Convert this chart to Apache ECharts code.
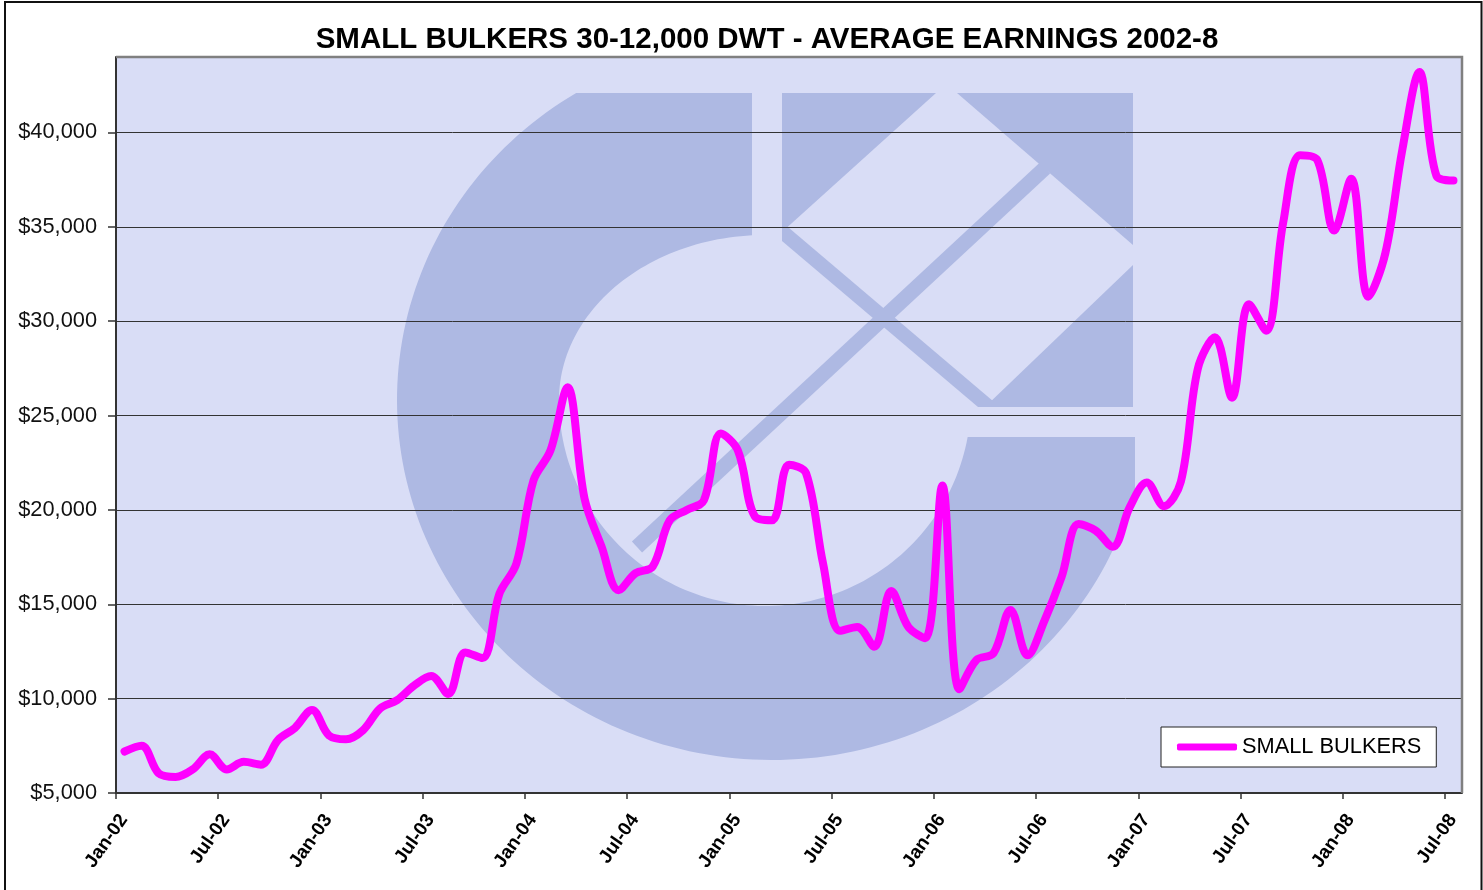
<!DOCTYPE html>
<html>
<head>
<meta charset="utf-8">
<title>Small bulkers average earnings</title>
<script src="https://cdn.jsdelivr.net/npm/echarts@6/dist/echarts.min.js"></script>
<style>
  html, body { margin: 0; padding: 0; background: #fff; }
  #chart { width: 1483px; height: 890px; }
</style>
</head>
<body>
<div id="chart"></div>
<script>
// monthly average earnings, $/day, Jan-02 .. Jul-08
const earnings = [
  7200, 7500, 6050, 5850, 6250, 7050, 6250, 6650, 6500, 7800, 8450, 9400,
  8050, 7850, 8330, 9480, 9920, 10700, 11200, 10250, 12450, 12150, 15550, 17150,
  21550, 23150, 26500, 20600, 18050, 15750, 16650, 17000, 19450, 20000, 20500, 24050,
  23150, 19650, 19450, 22400, 21950, 17150, 13600, 13800, 12750, 15700, 13800, 13200,
  21300, 10500, 12050, 12400, 14700, 12300, 14150, 16450, 19250, 18900, 18050, 20150,
  21450, 20200, 21500, 27500, 29150, 25950, 30900, 29500, 35200, 38800, 38550, 34800,
  37550, 31300, 33600, 39100, 43200, 37700, 37450
]
// x tick labels, one every 6 months
const tickLabels = [
  'Jan-02', 'Jul-02', 'Jan-03', 'Jul-03', 'Jan-04', 'Jul-04', 'Jan-05',
  'Jul-05', 'Jan-06', 'Jul-06', 'Jan-07', 'Jul-07', 'Jan-08', 'Jul-08'
]
const yTicks = [5000, 10000, 15000, 20000, 25000, 30000, 35000, 40000]
const seriesName = 'SMALL BULKERS'

const FONT = '"Liberation Sans", Arial, sans-serif'
const BG = '#D9DDF6'
const LOGO = '#AEB9E3'

// plot area
const G = { left: 116, top: 57, right: 1462, bottom: 793 }

// --- watermark logo (decoration only) ---
function band(x1, y1, x2, y2, w) {
  const dx = x2 - x1, dy = y2 - y1
  const l = Math.sqrt(dx * dx + dy * dy)
  const px = -dy / l * w / 2, py = dx / l * w / 2
  return [[x1 + px, y1 + py], [x2 + px, y2 + py], [x2 - px, y2 - py], [x1 - px, y1 - py]]
}

function outerArc() {
  const cx = 772, cy = 400, rx = 375, ry = 360
  const t0 = Math.PI - Math.asin((cy - 93) / ry)
  const t1 = 2 * Math.PI - Math.acos((1135 - cx) / rx)
  const pts = []
  for (let k = 0; k <= 160; k++) {
    const t = t0 + (t1 - t0) * k / 160
    pts.push([cx + rx * Math.cos(t), cy - ry * Math.sin(t)])
  }
  return pts
}

// inner hole: circle below the centre line, flatter ellipse above it
function innerArc() {
  const icx = 765, icy = 400, ir = 206, irTop = 165
  const t0 = Math.asin((437 - icy) / ir)
  const t1 = 1.5 * Math.PI + Math.asin((752 - icx) / ir)
  const pts = []
  for (let k = 0; k <= 160; k++) {
    const t = t0 + (t1 - t0) * k / 160
    const s = Math.sin(t)
    pts.push([icx + ir * Math.cos(t), icy + (s > 0 ? ir : irTop) * s])
  }
  return pts
}

const cPoints = [[752, 93]].concat(outerArc(), [[1135, 437]], innerArc(), [[752, 235]])

const logoShapes = [
  cPoints,
  [[782, 93], [936, 93], [782, 232]],
  [[957, 93], [1133, 93], [1133, 245]],
  [[1133, 265], [1133, 407], [985, 407]],
  [[782, 222], [1000, 407], [978, 407], [782, 241]],
  band(637, 547, 1045, 168, 15)
]

const chart = echarts.init(document.getElementById('chart'))

const option = {
  animation: false,
  backgroundColor: '#fff',
  title: {
    text: 'SMALL BULKERS 30-12,000 DWT - AVERAGE EARNINGS 2002-8',
    left: 767,
    top: 25,
    padding: 0,
    textAlign: 'center',
    textStyle: { fontFamily: FONT, fontSize: 29.5, fontWeight: 'bold', color: '#000' }
  },
  legend: {
    data: [seriesName],
    left: 1161,
    top: 727,
    orient: 'horizontal',
    padding: [9, 15, 9, 16],
    backgroundColor: '#fff',
    borderColor: '#222',
    borderWidth: 1,
    borderRadius: 0,
    itemWidth: 60,
    itemHeight: 7,
    icon: 'roundRect',
    textStyle: { fontFamily: FONT, fontSize: 21.8, color: '#000' }
  },
  grid: {
    left: G.left,
    top: G.top,
    right: 1483 - G.right,
    bottom: 890 - G.bottom,
    containLabel: false
  },
  xAxis: {
    type: 'value',
    min: 0,
    max: 79,
    interval: 6,
    axisLine: { show: true, lineStyle: { color: '#333', width: 2 } },
    axisTick: {
      show: true, length: 6, inside: false,
      customValues: tickLabels.map((_, k) => k * 6),
      lineStyle: { color: '#333', width: 1.5 }
    },
    axisLabel: {
      customValues: tickLabels.map((_, k) => k * 6),
      formatter: v => tickLabels[Math.round(v / 6)] || '',
      rotate: 55,
      margin: 18,
      verticalAlign: 'top',
      fontFamily: FONT,
      fontSize: 19,
      fontWeight: 'bold',
      color: '#000'
    },
    splitLine: { show: false }
  },
  yAxis: {
    type: 'value',
    min: 5000,
    max: 44000,
    interval: 5000,
    axisLine: { show: true, lineStyle: { color: '#333', width: 2 } },
    axisTick: {
      show: true, length: 8, inside: false,
      customValues: yTicks,
      lineStyle: { color: '#333', width: 1.5 }
    },
    axisLabel: {
      customValues: yTicks,
      formatter: v => '$' + v.toLocaleString('en-US'),
      margin: 19,
      fontFamily: FONT,
      fontSize: 21.8,
      color: '#111'
    },
    splitLine: { show: true, lineStyle: { color: '#333', width: 1 } }
  },
  graphic: [
    {
      type: 'rect', z: -10, silent: true,
      shape: { x: G.left, y: G.top, width: G.right - G.left, height: G.bottom - G.top },
      style: { fill: BG }
    }
  ].concat(logoShapes.map(p => ({
    type: 'polygon', z: -5, silent: true,
    shape: { points: p },
    style: { fill: LOGO }
  }))).concat([
    {
      type: 'polyline', z: 10, silent: true,
      shape: { points: [[G.left, G.top], [G.right, G.top], [G.right, G.bottom]] },
      style: { stroke: '#808080', lineWidth: 2.5, fill: null }
    },
    {
      type: 'rect', z: 10, silent: true,
      shape: { x: 5, y: 2, width: 1476.5, height: 900 },
      style: { stroke: '#111', lineWidth: 2, fill: null }
    }
  ]),
  series: [
    {
      name: seriesName,
      type: 'line',
      data: earnings.map((v, i) => [i + 0.5, v]),
      smooth: 0.35,
      symbol: 'none',
      showSymbol: false,
      lineStyle: { color: '#FF00FF', width: 8, cap: 'round', join: 'round' },
      itemStyle: { color: '#FF00FF' },
      z: 3
    }
  ]
}

chart.setOption(option)
</script>
</body>
</html>
